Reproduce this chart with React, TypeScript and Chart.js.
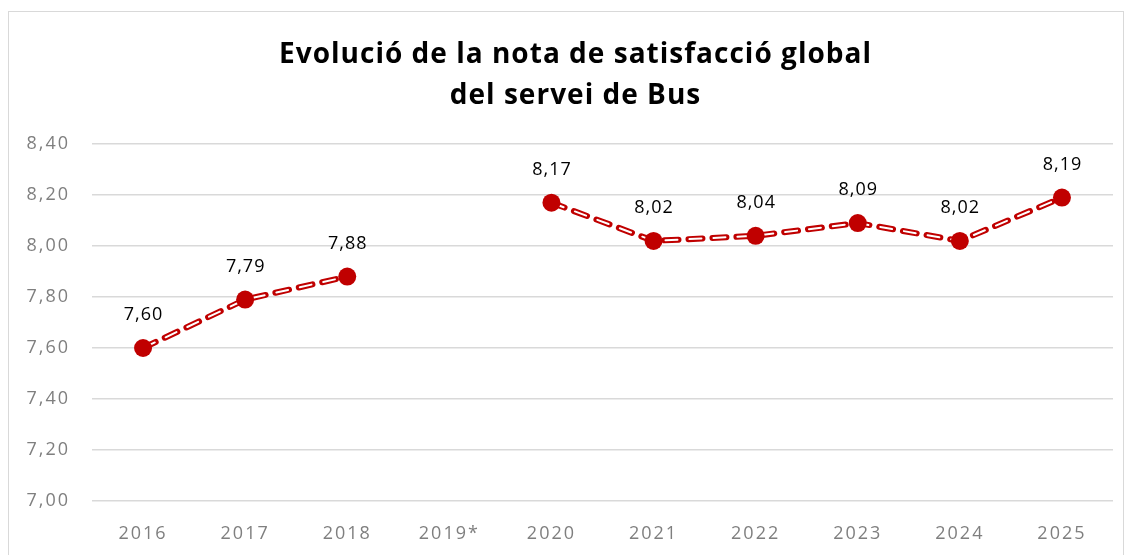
import React, { useEffect, useRef } from "react";
import { Chart, registerables } from "chart.js";

Chart.register(...registerables);

const TITLE_LINES = ["Evolució de la nota de satisfacció global", "del servei de Bus"];
const YEARS = ["2016", "2017", "2018", "2019*", "2020", "2021", "2022", "2023", "2024", "2025"];
const SCORES: (number | null)[] = [7.6, 7.79, 7.88, null, 8.17, 8.02, 8.04, 8.09, 8.02, 8.19];
const Y_MIN = 7.0;
const Y_MAX = 8.4;
const Y_STEP = 0.2;

const RED = "#C00000";
const FONT = "'Open Sans', sans-serif";

const fmt = (v: number) => v.toFixed(2).replace(".", ",");

const spacingPlugin = {
  id: "spacing",
  beforeDraw(chart: any) {
    chart.ctx.letterSpacing = "2px";
  },
};

const titlePlugin = {
  id: "customTitle",
  afterDraw(chart: any) {
    const ctx = chart.ctx;
    ctx.save();
    ctx.font = `bold 28px ${FONT}`;
    ctx.fillStyle = "#000000";
    ctx.textAlign = "center";
    ctx.textBaseline = "middle";
    ctx.letterSpacing = "0px";
    const w0 = ctx.measureText(TITLE_LINES[0]).width;
    const sp = Math.max(0, (592 - w0) / (TITLE_LINES[0].length - 1));
    ctx.letterSpacing = `${sp}px`;
    const cx = 566 + sp / 2;
    ctx.fillText(TITLE_LINES[0], cx, 43);
    ctx.fillText(TITLE_LINES[1], cx, 84);
    ctx.restore();
  },
};

const labelPlugin = {
  id: "valueLabels",
  afterDatasetsDraw(chart: any) {
    const meta = chart.getDatasetMeta(2);
    const ctx = chart.ctx;
    ctx.save();
    ctx.font = `18px ${FONT}`;
    ctx.letterSpacing = "1px";
    ctx.fillStyle = "#000000";
    ctx.textAlign = "center";
    ctx.textBaseline = "middle";
    meta.data.forEach((pt: any, i: number) => {
      const v = SCORES[i];
      if (v == null) return;
      ctx.fillText(fmt(v), pt.x + 0.5, pt.y - 33);
    });
    ctx.restore();
  },
};

export default function App() {
  const ref = useRef<HTMLCanvasElement>(null);
  useEffect(() => {
    if (!ref.current) return;
    const chart = new Chart(ref.current, {
      type: "line",
      data: {
        labels: YEARS,
        datasets: [
          {
            data: SCORES,
            borderColor: RED,
            borderWidth: 6,
            borderDash: [14, 10],
            borderCapStyle: "round",
            pointRadius: 0,
            spanGaps: false,
            tension: 0,
            order: 3,
          },
          {
            data: SCORES,
            borderColor: "#ffffff",
            borderWidth: 2,
            borderDash: [12, 12],
            borderDashOffset: 23,
            borderCapStyle: "round",
            pointRadius: 0,
            spanGaps: false,
            tension: 0,
            order: 2,
          },
          {
            data: SCORES,
            showLine: false,
            pointRadius: 9,
            pointBackgroundColor: RED,
            pointBorderColor: RED,
            pointBorderWidth: 0,
            order: 1,
          },
        ],
      },
      options: {
        animation: false,
        responsive: false,
        maintainAspectRatio: false,
        layout: { padding: { left: 0, right: 10, top: 132, bottom: 0 } },
        plugins: {
          legend: { display: false },
          tooltip: { enabled: false },
          title: { display: false },
        },
        scales: {
          x: {
            offset: true,
            grid: { display: false, drawTicks: false },
            border: { display: false },
            ticks: { color: "#7f7f7f", font: { family: FONT, size: 18 }, padding: 22 },
            afterFit: (s: any) => {
              s.height = 56;
            },
          },
          y: {
            min: Y_MIN,
            max: Y_MAX,
            grid: { color: "#d9d9d9", lineWidth: 1.5, drawTicks: false },
            border: { display: false },
            ticks: {
              stepSize: Y_STEP,
              color: "#7f7f7f",
              font: { family: FONT, size: 18 },
              padding: 22,
              callback: (v: any) => fmt(Number(v)),
            },
            afterFit: (s: any) => {
              s.width = 83;
            },
          },
        },
      },
      plugins: [spacingPlugin, labelPlugin, titlePlugin],
    });
    return () => chart.destroy();
  }, []);

  return (
    <div
      style={{
        position: "relative",
        marginTop: 3,
        width: 1114,
        height: 545,
        border: "1px solid #d9d9d9",
        background: "#fff",
      }}
    >
      <canvas ref={ref} width={1114} height={545} style={{ display: "block" }} />
    </div>
  );
}
